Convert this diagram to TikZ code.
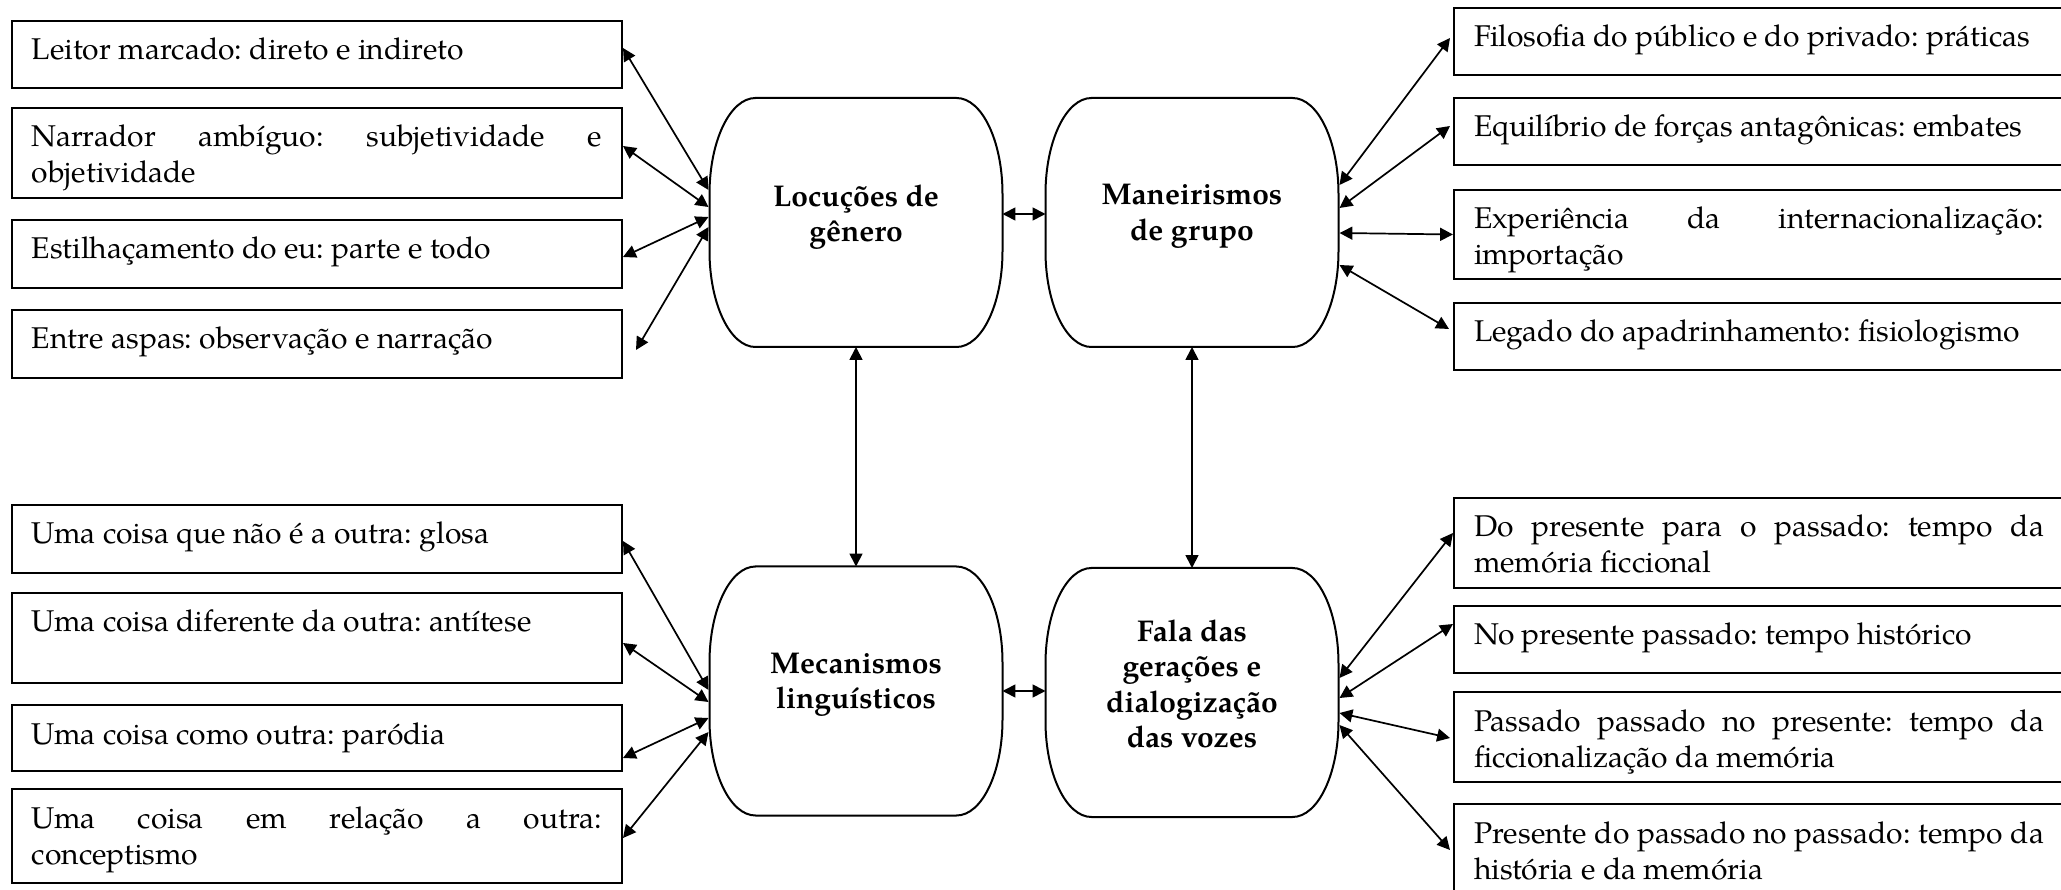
\documentclass[tikz,border=0pt]{standalone}
\usepackage{fontspec}
\setmainfont{TeX Gyre Pagella}
\usetikzlibrary{arrows.meta,calc}
\newlength\pxu
\setlength\pxu{0.35pt}
\newcommand\boxfont{\fontsize{10.5pt}{12.6pt}\selectfont\frenchspacing\hyphenpenalty=10000 \tolerance=10000 }
\newcommand\capfont{\fontsize{10.5pt}{12.4pt}\selectfont\bfseries}
\tikzset{
  tbox/.style={draw, line width=0.7pt, anchor=north west, inner xsep=20\pxu, inner ysep=0pt,
    text width=570\pxu, align=justify, text height=39\pxu, font=\boxfont},
  capnode/.style={minimum width=293\pxu, minimum height=249\pxu, inner sep=0pt, outer sep=0pt},
  capline/.style={line width=0.7pt},
  captext/.style={align=center, inner sep=0pt, anchor=north, font=\capfont},
  arr/.style={{Triangle[length=4.5pt,width=4.5pt]}-{Triangle[length=4.5pt,width=4.5pt]}, line width=0.6pt},
}
\newcommand\drawcapsule[1]{%
  \draw[capline] ($(#1.north west)+(46,0)$) -- ($(#1.north east)+(-46,0)$)
    arc[start angle=90,end angle=0,x radius=16.1pt,y radius=33.6pt]
    -- ($(#1.south east)+(0,-96)$)
    arc[start angle=0,end angle=-90,x radius=16.1pt,y radius=33.6pt]
    -- ($(#1.south west)+(46,0)$)
    arc[start angle=270,end angle=180,x radius=16.1pt,y radius=33.6pt]
    -- ($(#1.north west)+(0,96)$)
    arc[start angle=180,end angle=90,x radius=16.1pt,y radius=33.6pt] -- cycle;}
\begin{document}
\begin{tikzpicture}[x=0.35pt,y=-0.35pt]
\fill[white] (0,0) rectangle (2061,890);
\useasboundingbox (0,0) rectangle (2061,890);

% left top boxes
\node[tbox, text depth=28\pxu] (l1) at (11,20) {Leitor marcado: direto e indireto};
\node[tbox, text depth=51\pxu] (l2) at (11,107) {Narrador ambíguo: subjetividade e\linebreak objetividade};
\node[tbox, text depth=29\pxu] (l3) at (11,219) {Estilhaçamento do eu: parte e todo};
\node[tbox, text depth=29\pxu] (l4) at (11,309) {Entre aspas: observação e narração};

% left bottom boxes
\node[tbox, text depth=29\pxu] (b1) at (11,504) {Uma coisa que não é a outra: glosa};
\node[tbox, text depth=51\pxu] (b2) at (11,592) {Uma coisa diferente da outra: antítese};
\node[tbox, text depth=27\pxu] (b3) at (11,704) {Uma coisa como outra: paródia};
\node[tbox, text depth=55\pxu] (b4) at (11,788) {Uma coisa em relação a outra:\linebreak conceptismo};

% right top boxes
\node[tbox, text depth=28\pxu] (r1) at (1453,7) {Filosofia do público e do privado: práticas};
\node[tbox, text depth=28\pxu] (r2) at (1453,97) {Equilíbrio de forças antagônicas: embates};
\node[tbox, text depth=50\pxu] (r3) at (1453,189) {Experiência da internacionalização:\linebreak importação};
\node[tbox, text depth=28\pxu] (r4) at (1453,302) {Legado do apadrinhamento: fisiologismo};

% right bottom boxes
\node[tbox, text depth=51\pxu] (s1) at (1453,497) {Do presente para o passado: tempo da\linebreak memória ficcional};
\node[tbox, text depth=28\pxu] (s2) at (1453,605) {No presente passado: tempo histórico};
\node[tbox, text depth=51\pxu] (s3) at (1453,691) {Passado passado no presente: tempo da\linebreak ficcionalização da memória};
\node[tbox, text depth=53\pxu] (s4) at (1453,803) {Presente do passado no passado: tempo da\linebreak história e da memória};

% capsules
\node[capnode] (c1) at (856,222.5) {};
\node[capnode] (c2) at (1192,222.5) {};
\node[capnode] (c3) at (856,691) {};
\node[capnode] (c4) at (1192,692.5) {};
\drawcapsule{c1}
\drawcapsule{c2}
\drawcapsule{c3}
\drawcapsule{c4}
\node[captext] (c1t) at (856,184) {Locuções de\\gênero};
\node[captext] (c2t) at (1192,184) {Maneirismos\\de grupo};
\node[captext] (c3t) at (856,652) {Mecanismos\\linguísticos};
\node[captext] (c4t) at (1192,619) {Fala das\\gerações e\\dialogização\\das vozes};

% connectors top left
\draw[arr] ($(l1.east)+(0,-6.5)$) -- ($(c1.west)+(-1,-32.5)$);
\draw[arr] ($(l2.east)+(0,-7)$) -- ($(c1.west)+(-1,-15.5)$);
\draw[arr] ($(l3.east)+(0,3)$) -- ($(c1.west)+(-1,-5.5)$);
\coordinate (l4end) at ($(l4.east)+(13,6)$);
\draw[arr] (l4end) -- ($(c1.west)+(-1,4.5)$);

% connectors bottom left
\draw[arr] ($(b1.east)+(0,2)$) -- ($(c3.west)+(-1,-1)$);
\draw[arr] ($(b2.east)+(0,5)$) -- ($(c3.west)+(-1,11)$);
\draw[arr] ($(b3.east)+(0,20)$) -- ($(c3.west)+(-1,27)$);
\draw[arr] ($(b4.east)+(0,2)$) -- ($(c3.west)+(-1,41)$);

% connectors top right
\draw[arr] ($(c2.east)+(1,-37.5)$) -- ($(r1.west)+(-3,-3.5)$);
\draw[arr] ($(c2.east)+(1,-14.5)$) -- ($(r2.west)+(-3,-5.5)$);
\draw[arr] ($(c2.east)+(1,10.5)$) -- ($(r3.west)+(0,0)$);
\draw[arr] ($(c2.east)+(1,42.5)$) -- ($(r4.west)+(-4,-7.5)$);

% connectors bottom right
\draw[arr] ($(c4.east)+(1,-14.5)$) -- ($(s1.west)+(0,-10)$);
\draw[arr] ($(c4.east)+(1,5.5)$) -- ($(s2.west)+(0,-15.5)$);
\draw[arr] ($(c4.east)+(1,20.5)$) -- ($(s3.west)+(-3,1)$);
\draw[arr] ($(c4.east)+(1,32.5)$) -- ($(s4.west)+(-3,0)$);

% connectors between capsules
\draw[arr] ($(c1.east)+(0,-8.5)$) -- ($(c2.west)+(0,-8.5)$);
\draw[arr] (c3.east) -- (c3.east -| c4.west);
\draw[arr] (c1.south) -- (c3.north);
\draw[arr] (c2.south) -- (c4.north);
\end{tikzpicture}
\end{document}
